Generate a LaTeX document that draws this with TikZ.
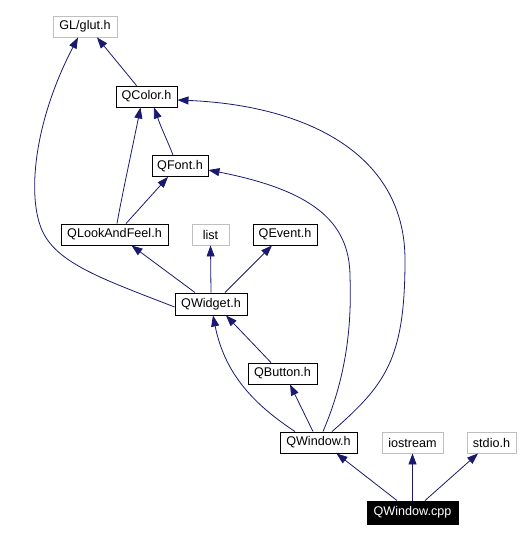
\documentclass[tikz,border=0pt]{standalone}
\usepackage{fontspec}
\setmainfont{Liberation Sans}
\usetikzlibrary{arrows.meta}
\definecolor{edgec}{HTML}{191970}
\definecolor{grayb}{HTML}{BFBFBF}
\begin{document}
\begin{tikzpicture}[x=1pt,y=-1pt,
  box/.style={draw=black,line width=0.9pt,fill=white,inner sep=0pt,minimum height=21pt,font=\fontsize{12.6}{14}\selectfont},
  gbox/.style={box,draw=grayb},
  root/.style={box,fill=black,text=white,minimum height=23pt},
  edge/.style={draw=edgec,line width=0.8pt,-{Triangle[length=11pt,width=8pt]}}]
\useasboundingbox (0,0) rectangle (520,540);
\node[gbox,minimum width=64pt] (GL) at (85,26.5) {GL/glut.h};
\node[box,minimum width=61pt] (QColor) at (146.5,96.5) {QColor.h};
\node[box,minimum width=56pt] (QFont) at (180,166) {QFont.h};
\node[box,minimum width=107pt] (QLAF) at (114.5,234.5) {QLookAndFeel.h};
\node[gbox,minimum width=37pt] (list) at (210.5,234.5) {list};
\node[box,minimum width=64pt] (QEvent) at (285,234.5) {QEvent.h};
\node[box,minimum width=72pt,minimum height=22pt] (QWidget) at (211,304) {QWidget.h};
\node[box,minimum width=69pt] (QButton) at (282.5,373.5) {QButton.h};
\node[box,minimum width=77pt] (QWindowh) at (318.5,442.5) {QWindow.h};
\node[gbox,minimum width=61pt] (iostream) at (412.5,442.5) {iostream};
\node[gbox,minimum width=49pt] (stdio) at (491.5,442.5) {stdio.h};
\node[root,minimum width=91pt] (QWcpp) at (412.5,512.5) {QWindow.cpp};

% edges
\draw[edge] ([xshift=-10pt]QColor.north) -- ([xshift=12pt]GL.south);
\draw[edge] ([yshift=-3pt]QWidget.west) .. controls (100,278) and (52,262) .. (40,225)
   .. controls (28,190) and (35,120) .. ([xshift=-7pt]GL.south);
\draw[edge] ([xshift=2.5pt]QLAF.north) .. controls (122,195) and (132,150) .. ([xshift=-6pt]QColor.south);
\draw[edge] ([xshift=-7pt]QFont.north) .. controls (168,142) and (162,130) .. ([xshift=7.5pt]QColor.south);
\draw[edge] ([xshift=11.5pt]QLAF.north) -- ([xshift=-12pt]QFont.south);
\draw[edge] ([xshift=-16pt]QWidget.north) -- ([xshift=17pt]QLAF.south);
\draw[edge] (QWidget.north) -- (list.south);
\draw[edge] ([xshift=14pt]QWidget.north) -- ([xshift=-13pt]QEvent.south);
\draw[edge] ([xshift=-11.5pt]QButton.north) -- ([xshift=15pt]QWidget.south);
\draw[edge] ([xshift=-23.5pt]QWindowh.north) .. controls (255,405) and (225,375) .. ([xshift=2pt]QWidget.south);
\draw[edge] ([xshift=-5.5pt]QWindowh.north) -- ([xshift=7.5pt]QButton.south);
\draw[edge] ([xshift=4.5pt]QWindowh.north) .. controls (345,380) and (352,330) .. (350,277)
   .. controls (350,220) and (310,190) .. ([yshift=-4pt]QFont.east);
\draw[edge] ([xshift=13.5pt]QWindowh.north) .. controls (385,385) and (405,360) .. (405,260)
   .. controls (405,150) and (300,105) .. ([yshift=-3.5pt]QColor.east);
\draw[edge] ([xshift=-15.5pt]QWcpp.north) -- ([xshift=18pt]QWindowh.south);
\draw[edge] (QWcpp.north) -- (iostream.south);
\draw[edge] ([xshift=12.5pt]QWcpp.north) -- ([xshift=-13.5pt]stdio.south);
\end{tikzpicture}
\end{document}
